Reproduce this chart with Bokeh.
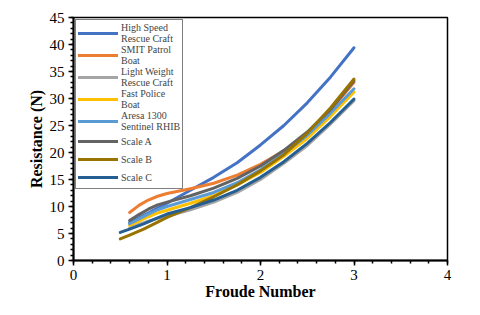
from bokeh.plotting import figure
from bokeh.models import Legend, LegendItem, FixedTicker
from bokeh.embed import file_html
from bokeh.resources import INLINE

# Froude number sample points
fr_a = [0.6, 0.7, 0.8, 0.9, 1.0, 1.25, 1.5, 1.75, 2.0, 2.25, 2.5, 2.75, 3.0]
fr_b = [0.5, 0.6, 0.75, 0.9, 1.0, 1.25, 1.5, 1.75, 2.0, 2.25, 2.5, 2.75, 3.0]

high_speed = [7.0, 7.9, 8.8, 9.7, 10.6, 13.0, 15.4, 18.1, 21.4, 25.0, 29.2, 34.0, 39.4]
smit_patrol = [8.9, 10.2, 11.2, 11.9, 12.4, 13.3, 14.3, 15.8, 17.8, 20.3, 23.5, 27.8, 33.0]
light_weight = [6.0, 6.7, 7.3, 7.8, 8.2, 9.4, 10.8, 12.6, 15.0, 18.0, 21.3, 25.3, 29.6]
fast_police = [6.5, 7.3, 8.1, 8.8, 9.3, 10.6, 12.0, 14.0, 16.3, 19.3, 22.6, 26.7, 31.2]
aresa_1300 = [6.8, 7.7, 8.6, 9.4, 10.0, 11.3, 12.6, 14.4, 16.8, 19.8, 23.2, 27.3, 31.8]
scale_a = [7.4, 8.5, 9.5, 10.3, 10.8, 12.0, 13.4, 15.2, 17.5, 20.4, 23.8, 28.0, 33.3]
scale_b = [4.0, 4.7, 5.8, 7.1, 8.0, 9.8, 11.8, 14.0, 16.6, 19.6, 23.6, 28.3, 33.6]
scale_c = [5.2, 5.8, 6.8, 7.9, 8.6, 9.8, 11.2, 13.0, 15.4, 18.3, 21.7, 25.6, 29.9]

labels = ["High Speed\nRescue Craft", "SMIT Patrol\nBoat", "Light Weight\nRescue Craft",
          "Fast Police\nBoat", "Aresa 1300\nSentinel RHIB", "Scale A", "Scale B", "Scale C"]
x_ticks = [0, 1, 2, 3, 4]
y_ticks = [0, 5, 10, 15, 20, 25, 30, 35, 40, 45]

series = [
    (fr_a, high_speed, "#4472C4"),
    (fr_a, smit_patrol, "#ED7D31"),
    (fr_a, light_weight, "#A5A5A5"),
    (fr_a, fast_police, "#FFC000"),
    (fr_a, aresa_1300, "#5B9BD5"),
    (fr_a, scale_a, "#636363"),
    (fr_b, scale_b, "#997300"),
    (fr_b, scale_c, "#255E91"),
]

p = figure(width=472, height=307, x_range=(0, 4), y_range=(0, 45),
           output_backend="svg", toolbar_location=None,
           min_border_left=73, min_border_top=17, min_border_right=25, min_border_bottom=47)
p.grid.visible = False
p.outline_line_color = "black"
p.outline_line_width = 1.5

FONT = "Liberation Serif"
renderers = []
for xs, ys, col in series:
    r = p.line(xs, ys, line_color=col, line_width=3, line_join="round", line_cap="round")
    renderers.append(r)

p.xaxis.ticker = FixedTicker(ticks=x_ticks, minor_ticks=[i * 0.2 for i in range(21)])
p.yaxis.ticker = FixedTicker(ticks=y_ticks, minor_ticks=list(range(46)))
for ax in (p.xaxis, p.yaxis):
    ax.axis_line_color = "black"
    ax.axis_line_width = 2
    ax.major_tick_line_color = "black"
    ax.major_tick_line_width = 1.5
    ax.minor_tick_line_color = "black"
    ax.minor_tick_line_width = 1.5
    ax.major_tick_in = 0
    ax.major_tick_out = 5
    ax.minor_tick_in = 0
    ax.minor_tick_out = 3
    ax.major_label_text_font = FONT
    ax.major_label_text_font_size = "15px"
    ax.major_label_text_color = "black"
    ax.axis_label_text_font = FONT
    ax.axis_label_text_font_style = "bold"
    ax.axis_label_text_font_size = "16px"
    ax.axis_label_text_color = "black"
p.xaxis.axis_label = "Froude Number"
p.yaxis.axis_label = "Resistance (N)"
p.xaxis.axis_label_standoff = 0
p.yaxis.axis_label_standoff = 2
p.xaxis.major_label_standoff = 4
p.yaxis.major_label_standoff = 4

items = [LegendItem(label=lab, renderers=[r]) for lab, r in zip(labels, renderers)]
legend = Legend(items=items, location="top_left")
legend.label_text_font = FONT
legend.label_text_font_size = "10px"
legend.label_text_line_height = 0.75
legend.glyph_width = 40
legend.glyph_height = 6
legend.label_height = 18
legend.spacing = 0
legend.padding = 2
legend.margin = 2
legend.border_line_color = "black"
legend.border_line_width = 1.5
legend.label_standoff = 3
p.add_layout(legend)

open("out.html", "w").write(file_html(p, INLINE))
